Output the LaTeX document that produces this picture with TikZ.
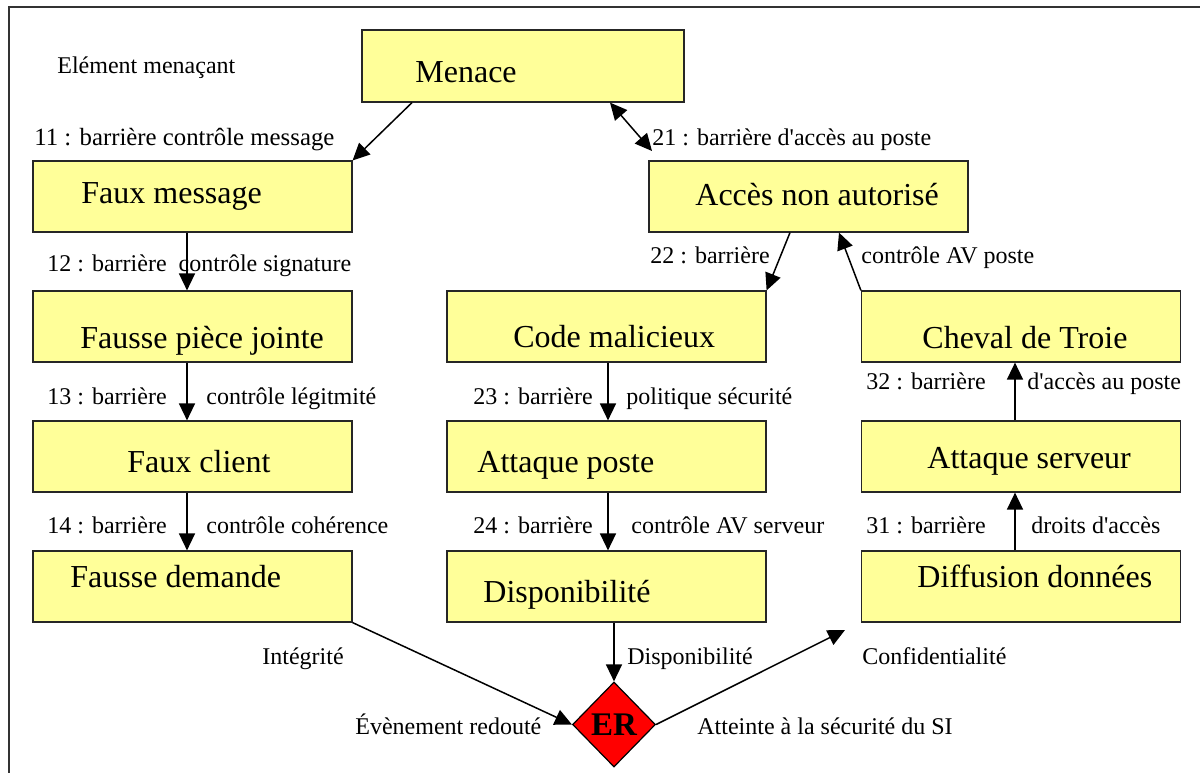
\documentclass[tikz,border=0pt]{standalone}
\usepackage{fontspec}
\setmainfont{Liberation Serif}
\usetikzlibrary{shapes.geometric,arrows.meta}
\definecolor{boxfill}{HTML}{FFFF99}
\definecolor{erred}{HTML}{FF0000}
\newcommand{\aq}{\textquotesingle}
\begin{document}
\begin{tikzpicture}[x=0.5pt,y=-0.5pt,
 box/.style={draw=black!85,line width=0.6pt,fill=boxfill,inner sep=0pt,minimum width=159.5pt,minimum height=35.5pt},
 big/.style={font=\fontsize{16}{19}\selectfont,inner sep=0pt,anchor=base west},
 lbl/.style={font=\fontsize{12}{14}\selectfont,inner sep=0pt,anchor=base west},
 arr/.style={line width=0.75pt,-{Triangle[length=8.5pt,width=8pt]}},
 darr/.style={line width=0.75pt,{Triangle[length=8.5pt,width=8pt]}-{Triangle[length=8.5pt,width=8pt]}},
]
\useasboundingbox (0,0) rectangle (1200,772);
\draw[line width=1pt,black!80] (9,7) rectangle (1230,800);

% boxes
\node[box,minimum width=161pt,minimum height=36pt] (menace) at (523,66) {};
\node[box] (fm) at (192.5,196.5) {};
\node[box] (fpj) at (192.5,326.5) {};
\node[box] (fc) at (192.5,456.5) {};
\node[box] (fd) at (192.5,586.5) {};
\node[box] (acces) at (808.5,196.5) {};
\node[box] (code) at (606.5,326.5) {};
\node[box] (ap) at (606.5,456.5) {};
\node[box] (dispo) at (606.5,586.5) {};
\node[box] (cheval) at (1021,326.5) {};
\node[box] (as) at (1021,456.5) {};
\node[box] (diff) at (1021,586.5) {};
\node[diamond,draw=black,line width=0.6pt,fill=erred,inner sep=0pt,aspect=1,
      minimum width=41.5pt,minimum height=42.5pt,font=\fontsize{16.5}{19}\selectfont\bfseries] (er) at (614,724.5) {ER};

% box texts
\node[big] (tmenace) at (415,82) {Menace};
\node[big] (tfm) at (81,203) {Faux message};
\node[big] (tacces) at (695,205) {Accès non autorisé};
\node[big] (tfpj) at (80,348) {Fausse pièce jointe};
\node[big] (tcode) at (513,347) {Code malicieux};
\node[big] (tcheval) at (922,348) {Cheval de Troie};
\node[big] (tfc) at (127,472) {Faux client};
\node[big] (tap) at (477,472) {Attaque poste};
\node[big] (tas) at (927,468) {Attaque serveur};
\node[big] (tfd) at (70,587) {Fausse demande};
\node[big] (tdispo) at (483,602) {Disponibilité};
\node[big] (tdiff) at (917,587) {Diffusion données};

% labels
\node[lbl] (l0) at (57,73) {Elément menaçant};
\node[lbl,font=\fontsize{12.4}{14}\selectfont] (l11) at (34,145) {11 : barrière contrôle message};
\node[lbl] (l21) at (652,145) {21 : barrière d\aq accès au poste};
\node[lbl] (l12) at (47,271) {12 : barrière\ \ contrôle signature};
\node[lbl] (l22) at (650,263) {22 : barrière};
\node[lbl] (lav) at (861,263) {contrôle AV poste};
\node[lbl] (l13) at (47,404) {13 : barrière};
\node[lbl] (l13b) at (206,404) {contrôle légitmité};
\node[lbl] (l23) at (473,404) {23 : barrière};
\node[lbl] (l23b) at (626,404) {politique sécurité};
\node[lbl] (l32) at (866,389) {32 : barrière};
\node[lbl] (l32b) at (1027,389) {d\aq accès au poste};
\node[lbl] (l14) at (47,533) {14 : barrière};
\node[lbl] (l14b) at (206,533) {contrôle cohérence};
\node[lbl] (l24) at (473,533) {24 : barrière};
\node[lbl] (l24b) at (631,533) {contrôle AV serveur};
\node[lbl] (l31) at (866,533) {31 : barrière};
\node[lbl] (l31b) at (1031,533) {droits d\aq accès};
\node[lbl] (lint) at (262,664) {Intégrité};
\node[lbl] (ldisp) at (627,664) {Disponibilité};
\node[lbl] (lconf) at (862,664) {Confidentialité};
\node[lbl] (lev) at (355,734) {Évènement redouté};
\node[lbl] (latt) at (697,734) {Atteinte à la sécurité du SI};

% free ends
\coordinate (c21) at (652,151);
\coordinate (conf) at (845,630);

% connectors
\draw[arr] (412,0 |- menace.south) -- (fm.north east);
\draw[darr] (610,0 |- menace.south) -- (c21);
\draw[arr] (187,0 |- fm.south) -- (187,0 |- fpj.north);
\draw[arr] (187,0 |- fpj.south) -- (187,0 |- fc.north);
\draw[arr] (187,0 |- fc.south) -- (187,0 |- fd.north);
\draw[arr] (790,0 |- acces.south) -- (code.north east);
\draw[arr] (cheval.north west) -- (839,0 |- acces.south);
\draw[arr] (608,0 |- code.south) -- (608,0 |- ap.north);
\draw[arr] (608,0 |- ap.south) -- (608,0 |- dispo.north);
\draw[arr] (1015,0 |- as.north) -- (1015,0 |- cheval.south);
\draw[arr] (1015,0 |- diff.north) -- (1015,0 |- as.south);
\draw[arr] (fd.south east) -- (er.west);
\draw[arr] (er.north |- dispo.south) -- (er.north);
\draw[arr] (er.east) -- (conf);
\end{tikzpicture}
\end{document}
